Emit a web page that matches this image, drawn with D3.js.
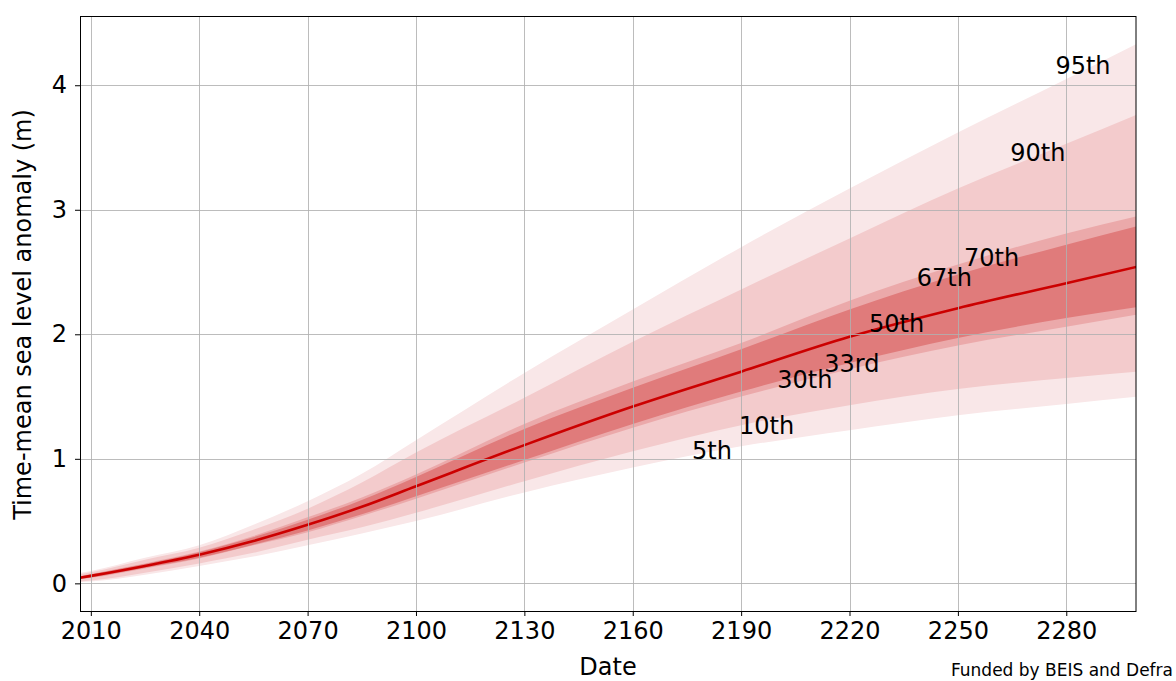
<!DOCTYPE html>
<html>
<head>
<meta charset="utf-8">
<script src="https://cdn.jsdelivr.net/npm/d3@7"></script>
<style>
  body { margin: 0; background: #fff; }
  text { font-family: "DejaVu Sans", sans-serif; fill: #000; }
</style>
</head>
<body>
<div id="chart"></div>
<script>
// sea level percentiles (metres)
var years = [2007, 2010, 2025, 2040, 2055, 2070, 2085, 2100, 2130, 2160, 2190, 2220, 2250, 2280, 2300];
var p5  = [0.010, 0.015, 0.070, 0.140, 0.215, 0.305, 0.400, 0.500, 0.730, 0.930, 1.100, 1.230, 1.350, 1.440, 1.500];
var p10 = [0.015, 0.022, 0.085, 0.160, 0.245, 0.350, 0.450, 0.567, 0.820, 1.060, 1.270, 1.430, 1.560, 1.650, 1.700];
var p30 = [0.035, 0.045, 0.120, 0.200, 0.305, 0.410, 0.540, 0.680, 0.970, 1.250, 1.500, 1.720, 1.910, 2.060, 2.160];
var p33 = [0.037, 0.048, 0.125, 0.205, 0.310, 0.425, 0.555, 0.700, 0.990, 1.280, 1.540, 1.770, 1.970, 2.130, 2.220];
var p50 = [0.045, 0.060, 0.140, 0.230, 0.340, 0.470, 0.615, 0.780, 1.110, 1.420, 1.700, 1.980, 2.210, 2.410, 2.545];
var p67 = [0.055, 0.072, 0.155, 0.250, 0.370, 0.510, 0.670, 0.855, 1.240, 1.570, 1.880, 2.200, 2.480, 2.720, 2.870];
var p70 = [0.057, 0.075, 0.160, 0.255, 0.380, 0.530, 0.690, 0.874, 1.280, 1.620, 1.930, 2.270, 2.560, 2.810, 2.950];
var p90 = [0.075, 0.090, 0.190, 0.286, 0.430, 0.600, 0.810, 1.050, 1.490, 1.940, 2.360, 2.770, 3.170, 3.530, 3.770];
var p95 = [0.085, 0.100, 0.205, 0.305, 0.470, 0.660, 0.880, 1.150, 1.690, 2.200, 2.700, 3.170, 3.620, 4.050, 4.340];

// percentile labels, placed in data coordinates
var labelText  = ["5th", "10th", "30th", "33rd", "50th", "67th", "70th", "90th", "95th"];
var labelYear  = [2176.4, 2189.4, 2200.0, 2213.0, 2225.4, 2238.6, 2251.7, 2264.5, 2277.0];
var labelValue = [1.00, 1.20, 1.565, 1.70, 2.015, 2.384, 2.552, 3.39, 4.09];

var xTicks = [2010, 2040, 2070, 2100, 2130, 2160, 2190, 2220, 2250, 2280];
var yTicks = [0, 1, 2, 3, 4];

var W = 1176, H = 681;
var margin = {left: 80, top: 16, right: 40, bottom: 70};
var width = W - margin.left - margin.right;
var height = H - margin.top - margin.bottom;

var svg = d3.select("#chart").append("svg")
    .attr("width", W)
    .attr("height", H);

var x = d3.scaleLinear().domain([2007, 2299.3]).range([0, width]);
var y = d3.scaleLinear().domain([-0.222, 4.556]).range([height, 0]);

var g = svg.append("g")
    .attr("transform", "translate(" + margin.left + "," + margin.top + ")");

g.append("clipPath").attr("id", "clip")
  .append("rect").attr("width", width).attr("height", height);

var rows = years.map(function(yr, i) {
    return {year: yr, p5: p5[i], p10: p10[i], p30: p30[i], p33: p33[i],
            p50: p50[i], p67: p67[i], p70: p70[i], p90: p90[i], p95: p95[i]};
});

function band(lo, hi) {
    return d3.area()
        .x(function(d) { return x(d.year); })
        .y0(function(d) { return y(d[lo]); })
        .y1(function(d) { return y(d[hi]); })
        .curve(d3.curveMonotoneX);
}

var plot = g.append("g").attr("clip-path", "url(#clip)");

var bands = [
    ["p5", "p95", "#f9e7e8"],
    ["p10", "p90", "#f3cbcc"],
    ["p30", "p70", "#eba9aa"],
    ["p33", "p67", "#e07b7b"]
];
bands.forEach(function(b) {
    plot.append("path")
        .datum(rows)
        .attr("d", band(b[0], b[1]))
        .attr("fill", b[2]);
});

// grid
g.append("g")
    .selectAll("line.vx")
    .data(xTicks)
    .enter().append("line")
      .attr("x1", function(d) { return Math.round(x(d)) + 0.5; })
      .attr("x2", function(d) { return Math.round(x(d)) + 0.5; })
      .attr("y1", 0).attr("y2", height)
      .attr("stroke", "#b0b0b0").attr("stroke-opacity", 0.85);
g.append("g")
    .selectAll("line.hy")
    .data(yTicks)
    .enter().append("line")
      .attr("y1", function(d) { return Math.round(y(d)) + 0.5; })
      .attr("y2", function(d) { return Math.round(y(d)) + 0.5; })
      .attr("x1", 0).attr("x2", width)
      .attr("stroke", "#b0b0b0").attr("stroke-opacity", 0.85);

// median
plot.append("path")
    .datum(rows)
    .attr("d", d3.line()
        .x(function(d) { return x(d.year); })
        .y(function(d) { return y(d.p50); })
        .curve(d3.curveMonotoneX))
    .attr("fill", "none")
    .attr("stroke", "#cc0000")
    .attr("stroke-width", 2.6);

// labels
g.append("g")
    .selectAll("text")
    .data(labelText)
    .enter().append("text")
      .attr("x", function(d, i) { return x(labelYear[i]); })
      .attr("y", function(d, i) { return y(labelValue[i]); })
      .style("font-size", "24px")
      .text(function(d) { return d; });

// axes
var xAxis = d3.axisBottom(x).tickValues(xTicks).tickFormat(d3.format("d"))
    .tickSize(5).tickPadding(6);
var yAxis = d3.axisLeft(y).tickValues(yTicks).tickFormat(d3.format("d"))
    .tickSize(5).tickPadding(8);

var gx = g.append("g")
    .attr("transform", "translate(0," + height + ")")
    .call(xAxis);
var gy = g.append("g").call(yAxis);

[gx, gy].forEach(function(a) {
    a.select(".domain").remove();
    a.selectAll(".tick line").attr("stroke", "#000").attr("stroke-width", 1);
    a.selectAll(".tick text")
        .style("font-family", "DejaVu Sans")
        .style("font-size", "24px")
        .attr("fill", "#000");
});

g.append("rect")
    .attr("x", 0.5).attr("y", 0.5)
    .attr("width", width - 0.5).attr("height", height)
    .attr("fill", "none")
    .attr("stroke", "#000")
    .attr("stroke-width", 1);

svg.append("text")
    .attr("x", margin.left + width / 2)
    .attr("y", 675)
    .attr("text-anchor", "middle")
    .style("font-size", "24px")
    .text("Date");

svg.append("text")
    .attr("transform", "translate(31," + (margin.top + height / 2 + 1) + ") rotate(-90)")
    .attr("text-anchor", "middle")
    .style("font-size", "24px")
    .text("Time-mean sea level anomaly (m)");

svg.append("text")
    .attr("x", 1173)
    .attr("y", 676)
    .attr("text-anchor", "end")
    .style("font-size", "17px")
    .text("Funded by BEIS and Defra");
</script>
</body>
</html>
